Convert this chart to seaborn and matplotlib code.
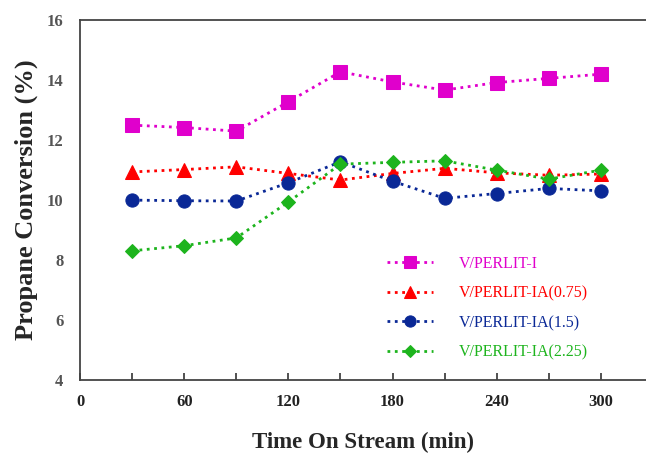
import seaborn as sns
import matplotlib.pyplot as plt
import pandas as pd

# time on stream (min)
time_min = [30, 60, 90, 120, 150, 180, 210, 240, 270, 300]

# propane conversion (%) per catalyst
perlit_i = [12.5, 12.42, 12.3, 13.28, 14.28, 13.94, 13.67, 13.92, 14.06, 14.2]
perlit_ia_075 = [10.94, 11.02, 11.11, 10.89, 10.67, 10.89, 11.06, 10.91, 10.83, 10.87]
perlit_ia_15 = [10.0, 9.98, 9.97, 10.58, 11.28, 10.63, 10.06, 10.22, 10.39, 10.31]
perlit_ia_225 = [8.31, 8.48, 8.74, 9.94, 11.2, 11.26, 11.31, 11.0, 10.7, 11.0]

labels = ["V/PERLIT-I", "V/PERLIT-IA(0.75)", "V/PERLIT-IA(1.5)", "V/PERLIT-IA(2.25)"]
series = [perlit_i, perlit_ia_075, perlit_ia_15, perlit_ia_225]
colors = ["#E000CC", "#FF0000", "#0A2896", "#1DB41D"]
markers = ["s", "^", "o", "D"]
msizes = [9.5, 9.5, 9.5, 7.5]

sns.set_style("white")
plt.rcParams['font.family'] = ['Liberation Serif', 'DejaVu Serif']

fig = plt.figure(figsize=(6.46, 4.59), dpi=100)
ax = fig.add_axes([0.124, 0.172, 0.876, 0.784])

for lab, vals, col, mk, ms in zip(labels, series, colors, markers, msizes):
    df = pd.DataFrame({"time": time_min, "conv": vals})
    sns.lineplot(data=df, x="time", y="conv", ax=ax, color=col, marker=mk,
                 markersize=ms, markeredgecolor=col, linestyle=":", linewidth=2.0,
                 label=lab)

ax.set_xlim(0, 326)
ax.set_ylim(4, 16)
ax.set_xticks(range(0, 301, 60))
ax.set_xticks(range(30, 301, 60), minor=True)
ax.set_yticks(range(4, 17, 2))
ax.tick_params(axis="x", which="both", direction="in", length=5, width=1.2,
               color="#333333", bottom=True, labelsize=12, labelcolor="#222222", pad=10)
ax.tick_params(axis="y", length=0, labelsize=12, labelcolor="#555555", pad=12)
for t in ax.get_xticklabels() + ax.get_yticklabels():
    t.set_fontweight("bold")

for side in ["left", "bottom", "top"]:
    ax.spines[side].set_color("#444444")
    ax.spines[side].set_linewidth(1.3)
ax.spines["right"].set_visible(False)

ax.set_xlabel("Time On Stream (min)", fontsize=16.5, fontweight="bold", labelpad=16)
ax.set_ylabel("Propane Conversion (%)", fontsize=19, fontweight="bold", labelpad=6)

leg = ax.legend(loc="upper left", bbox_to_anchor=(0.517, 0.385), frameon=False,
                fontsize=11.5, handlelength=2.9, handletextpad=1.6,
                labelspacing=0.85, labelcolor="linecolor", markerscale=0.85)

fig.savefig("out.png", dpi=100)
